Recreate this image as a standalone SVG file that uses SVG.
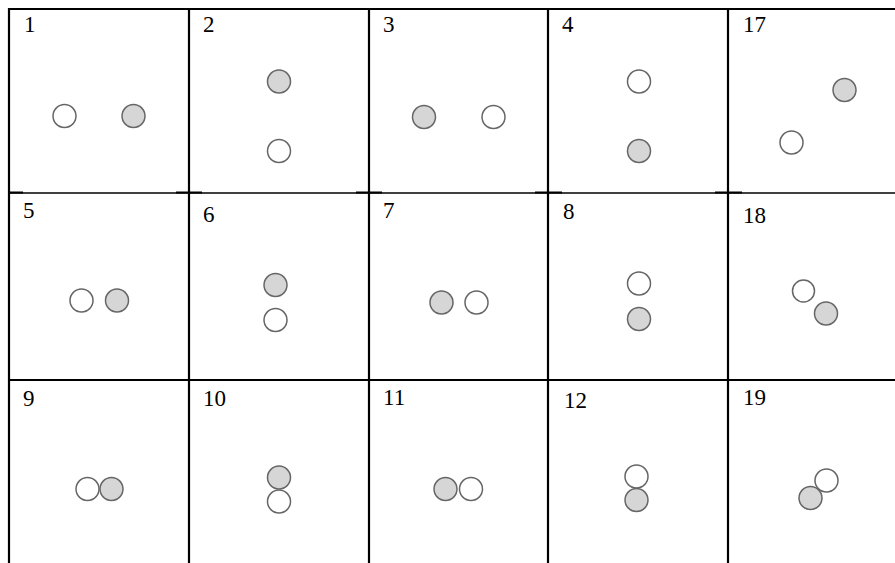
<svg xmlns="http://www.w3.org/2000/svg" width="895" height="563" viewBox="0 0 895 563">
<style>
.g{stroke:#000;fill:none}
.t{font-family:"Liberation Serif",serif;font-size:23px;fill:#000}
.w{fill:#fff;stroke:#666;stroke-width:1.5}
.s{fill:#d6d6d6;stroke:#666;stroke-width:1.5}
</style>
<rect width="895" height="563" fill="#fff"/>
<g id="grid">
<line class="g" stroke-width="2.2" x1="8" y1="9" x2="895" y2="9"/>
<line class="g" stroke-width="1.3" x1="8" y1="193" x2="895" y2="193"/>
<line class="g" stroke-width="2" x1="8" y1="380" x2="895" y2="380"/>
<g stroke-width="2.2" class="g">
<line x1="9" y1="8" x2="9" y2="563"/>
<line x1="189" y1="8" x2="189" y2="563"/>
<line x1="369" y1="8" x2="369" y2="563"/>
<line x1="548" y1="8" x2="548" y2="563"/>
<line x1="728" y1="8" x2="728" y2="563"/>
</g>
<g stroke-width="2" class="g">
<line x1="9" y1="192.5" x2="23" y2="192.5"/>
<line x1="176" y1="192.5" x2="202" y2="192.5"/>
<line x1="356" y1="192.5" x2="382" y2="192.5"/>
<line x1="535" y1="192.5" x2="562" y2="192.5"/>
<line x1="715" y1="192.5" x2="742" y2="192.5"/>
</g>
</g>
<g id="labels">
<text class="t" x="24" y="32">1</text>
<text class="t" x="203" y="32">2</text>
<text class="t" x="383" y="32">3</text>
<text class="t" x="562" y="32">4</text>
<text class="t" x="743" y="32">17</text>
<text class="t" x="23" y="218">5</text>
<text class="t" x="203" y="222">6</text>
<text class="t" x="383" y="218">7</text>
<text class="t" x="563" y="219">8</text>
<text class="t" x="743" y="223">18</text>
<text class="t" x="23" y="406">9</text>
<text class="t" x="203" y="406">10</text>
<text class="t" x="383" y="405">11</text>
<text class="t" x="564" y="408">12</text>
<text class="t" x="743" y="405">19</text>
</g>
<g id="cell1"><circle class="w" cx="64.5" cy="116" r="11.5"/><circle class="s" cx="133.5" cy="116" r="11.5"/></g>
<g id="cell2"><circle class="s" cx="279" cy="81.5" r="11.5"/><circle class="w" cx="279" cy="151" r="11.5"/></g>
<g id="cell3"><circle class="s" cx="424" cy="117" r="11.5"/><circle class="w" cx="493.5" cy="117" r="11.5"/></g>
<g id="cell4"><circle class="w" cx="639" cy="81.5" r="11.5"/><circle class="s" cx="639" cy="151" r="11.5"/></g>
<g id="cell17"><circle class="s" cx="844.5" cy="90" r="11.5"/><circle class="w" cx="791.5" cy="142.5" r="11.5"/></g>
<g id="cell5"><circle class="w" cx="81.5" cy="300.5" r="11.5"/><circle class="s" cx="117" cy="300.5" r="11.5"/></g>
<g id="cell6"><circle class="s" cx="275.5" cy="285" r="11.5"/><circle class="w" cx="275.5" cy="320" r="11.5"/></g>
<g id="cell7"><circle class="s" cx="441.5" cy="302.5" r="11.5"/><circle class="w" cx="476.5" cy="302.5" r="11.5"/></g>
<g id="cell8"><circle class="w" cx="639" cy="283.5" r="11.5"/><circle class="s" cx="639" cy="319" r="11.5"/></g>
<g id="cell18"><circle class="w" cx="803.5" cy="291" r="11"/><circle class="s" cx="826" cy="313.5" r="11.5"/></g>
<g id="cell9"><circle class="w" cx="87.5" cy="489" r="11.5"/><circle class="s" cx="111.5" cy="489" r="11.5"/></g>
<g id="cell10"><circle class="s" cx="279" cy="477.5" r="11.5"/><circle class="w" cx="279" cy="501.5" r="11.5"/></g>
<g id="cell11"><circle class="s" cx="445.5" cy="489" r="11.5"/><circle class="w" cx="471" cy="489" r="11.5"/></g>
<g id="cell12"><circle class="w" cx="636.5" cy="476.5" r="11.5"/><circle class="s" cx="636.5" cy="500" r="11.5"/></g>
<g id="cell19"><circle class="w" cx="826.5" cy="480.5" r="11.5"/><circle class="s" cx="810.5" cy="498" r="11.5"/></g>
</svg>
